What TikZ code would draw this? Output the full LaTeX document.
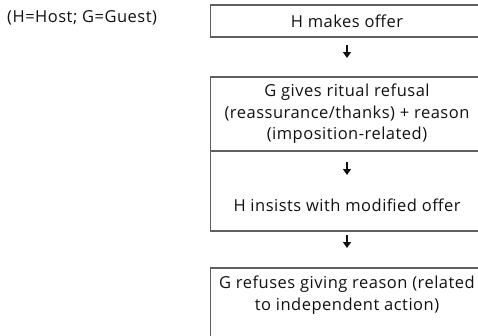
\documentclass[tikz,border=0pt]{standalone}
\usepackage{fontspec}
\setmainfont[LetterSpace=3]{Open Sans}
\usetikzlibrary{arrows.meta}
\definecolor{framegray}{HTML}{5F5F5F}
\definecolor{textblack}{HTML}{111111}
\tikzset{
  steptext/.style={align=center, font=\fontsize{16.5}{21.5}\selectfont, text=textblack, inner sep=0pt},
  frame/.style={draw=framegray, line width=1.3pt},
  down/.style={-{Triangle[length=6pt,width=8pt]}, line width=2.2pt, draw=textblack}
}
\begin{document}
\begin{tikzpicture}[x=1pt,y=-1pt]
  \useasboundingbox (0,0) rectangle (478,335);
  \clip (0,0) rectangle (478,335);
  % key
  \node[steptext, anchor=west] (key) at (7,18) {(H=Host; G=Guest)};
  % frames
  \draw[frame] (210.5,5) rectangle (490,37);
  \draw[frame] (210.5,77) rectangle (490,231);
  \draw[frame] (210.5,151) -- (490,151);
  \draw[frame] (210.5,268) rectangle (490,350);
  % steps
  \node[steptext] (offer) at (347,21) {H makes offer};
  \node[steptext] (refusal) at (347,114) {G gives ritual refusal\\(reassurance/thanks) + reason\\(imposition-related)};
  \node[steptext] (insist) at (347,205) {H insists with modified offer};
  \node[steptext] (reason) at (347,295) {G refuses giving reason (related\\to independent action)};
  % arrows
  \coordinate (a1) at (347,45);
  \coordinate (b1) at (347,58);
  \coordinate (a2) at (347,162);
  \coordinate (b2) at (347,175);
  \coordinate (a3) at (347,235);
  \coordinate (b3) at (347,248);
  \draw[down] (a1) -- (b1);
  \draw[down] (a2) -- (b2);
  \draw[down] (a3) -- (b3);
\end{tikzpicture}
\end{document}
